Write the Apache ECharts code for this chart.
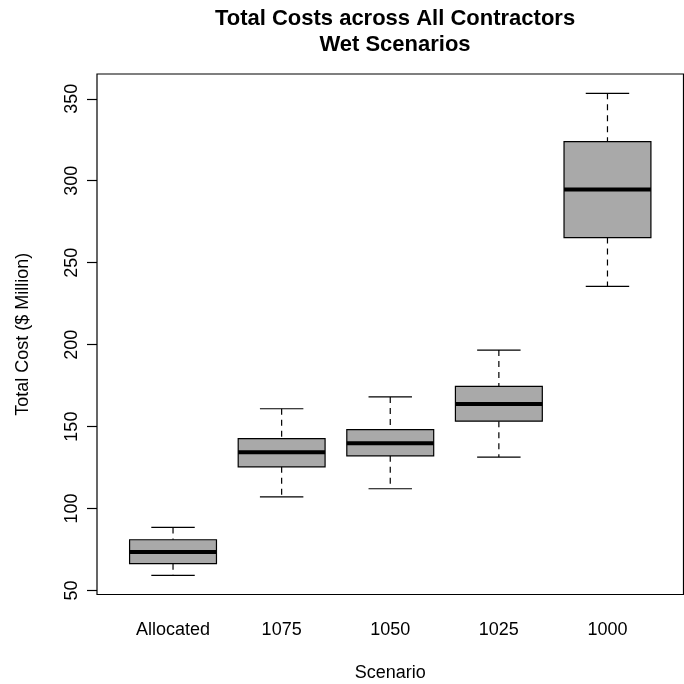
<!DOCTYPE html>
<html>
<head>
<meta charset="utf-8">
<script src="https://cdn.jsdelivr.net/npm/echarts@6/dist/echarts.min.js"></script>
<style>
html,body{margin:0;padding:0;background:#fff;}
#chart{width:684px;height:684px;}
</style>
</head>
<body>
<div id="chart"></div>
<script>
// ---- data ----
var categories = ['Allocated', '1075', '1050', '1025', '1000'];
var lowWhisker  = [59.3, 107.2, 112.1, 131.4, 235.6];
var q1          = [66.4, 125.5, 132.2, 153.3, 265.3];
var median      = [73.6, 134.4, 139.9, 163.8, 294.7];
var q3          = [81.0, 142.7, 148.2, 174.6, 323.9];
var highWhisker = [88.5, 160.9, 168.1, 196.7, 353.3];
var yTicks = [50, 100, 150, 200, 250, 300, 350];
var xTicks = [1, 2, 3, 4, 5];

var FONT = '"Liberation Sans", Arial, sans-serif';

var seriesData = categories.map(function (c, i) {
  return [i + 1, lowWhisker[i], q1[i], median[i], q3[i], highWhisker[i]];
});

function renderBox(params, api) {
  var x = api.value(0);
  var lo = api.coord([x, api.value(1)]);
  var b1 = api.coord([x, api.value(2)]);
  var md = api.coord([x, api.value(3)]);
  var b3 = api.coord([x, api.value(4)]);
  var hi = api.coord([x, api.value(5)]);
  var w = api.size([0.8, 0])[0];
  var cw = w / 2;
  var cx = lo[0];
  var stroke = '#000';
  return {
    type: 'group',
    children: [
      { type: 'line', shape: { x1: cx, y1: hi[1], x2: cx, y2: b3[1] },
        style: { stroke: stroke, lineWidth: 1.2, lineDash: [6, 5] } },
      { type: 'line', shape: { x1: cx, y1: b1[1], x2: cx, y2: lo[1] },
        style: { stroke: stroke, lineWidth: 1.2, lineDash: [6, 5] } },
      { type: 'line', shape: { x1: cx - cw / 2, y1: hi[1], x2: cx + cw / 2, y2: hi[1] },
        style: { stroke: stroke, lineWidth: 1.2 } },
      { type: 'line', shape: { x1: cx - cw / 2, y1: lo[1], x2: cx + cw / 2, y2: lo[1] },
        style: { stroke: stroke, lineWidth: 1.2 } },
      { type: 'rect', shape: { x: cx - w / 2, y: b3[1], width: w, height: b1[1] - b3[1] },
        style: { fill: '#A9A9A9', stroke: stroke, lineWidth: 1.2 } },
      { type: 'line', shape: { x1: cx - w / 2, y1: md[1], x2: cx + w / 2, y2: md[1] },
        style: { stroke: stroke, lineWidth: 4 } }
    ]
  };
}

var chart = echarts.init(document.getElementById('chart'), null, { renderer: 'canvas' });
chart.setOption({
  animation: false,
  backgroundColor: '#fff',
  title: {
    text: 'Total Costs across All Contractors\nWet Scenarios',
    left: 390,
    textAlign: 'center',
    top: 1,
    textStyle: {
      fontFamily: FONT, fontSize: 22, fontWeight: 'bold', color: '#000', lineHeight: 26
    }
  },
  grid: {
    left: 97, right: 0.5, top: 74, bottom: 89.5,
    outerBoundsMode: 'none',
    containLabel: false,
    show: true, borderColor: '#000', borderWidth: 1.2, backgroundColor: 'transparent'
  },
  xAxis: {
    type: 'value', min: 0.3, max: 5.7,
    name: 'Scenario', nameLocation: 'middle', nameGap: 70,
    nameTextStyle: { fontFamily: FONT, fontSize: 18, color: '#000' },
    axisLine: { show: false },
    axisTick: { show: false },
    splitLine: { show: false },
    axisLabel: {
      customValues: xTicks,
      formatter: function (v) { return categories[Math.round(v) - 1]; },
      fontFamily: FONT, fontSize: 18, color: '#000', margin: 27
    }
  },
  yAxis: {
    type: 'value', min: 47.6, max: 365.1,
    name: 'Total Cost ($ Million)', nameLocation: 'middle', nameGap: 65,
    nameRotate: 90,
    nameTextStyle: { fontFamily: FONT, fontSize: 18, color: '#000' },
    axisLine: { show: false },
    splitLine: { show: false },
    axisTick: {
      show: true, customValues: yTicks, length: 10, inside: false,
      lineStyle: { color: '#000', width: 1.2 }
    },
    axisLabel: {
      customValues: yTicks, rotate: 90, margin: 16,
      fontFamily: FONT, fontSize: 18, color: '#000'
    }
  },
  series: [{
    type: 'custom',
    renderItem: renderBox,
    data: seriesData,
    encode: { x: 0, y: [1, 2, 3, 4, 5] },
    clip: false
  }]
});
</script>
</body>
</html>
